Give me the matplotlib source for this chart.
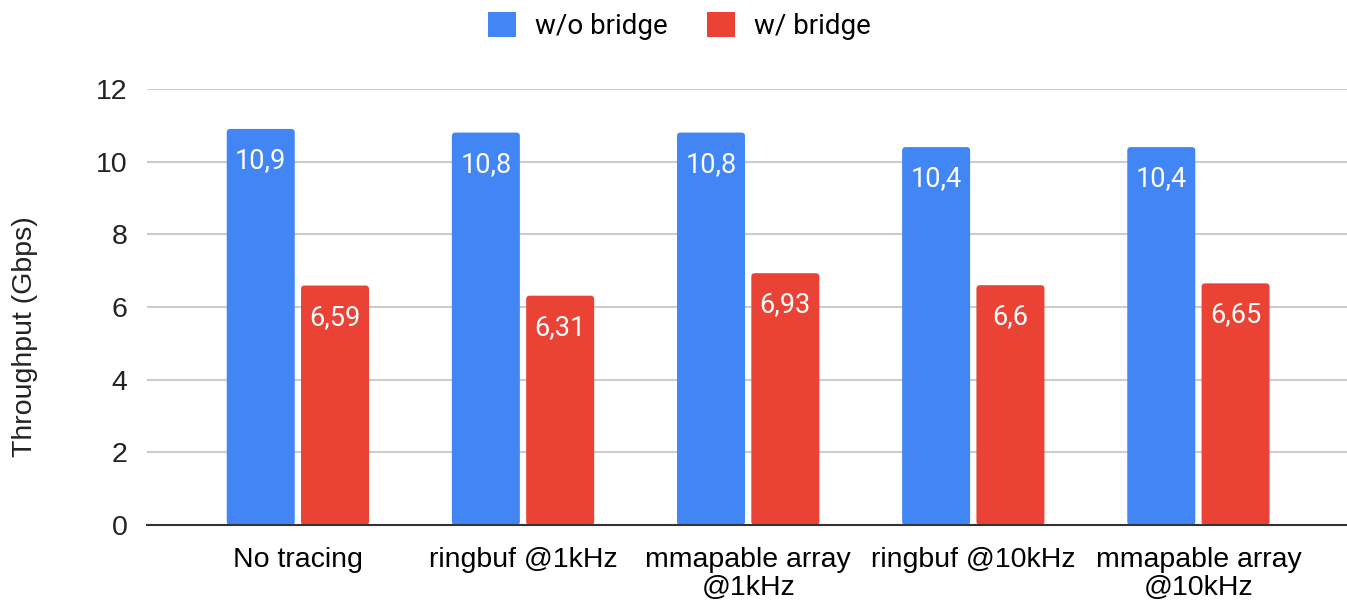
import matplotlib.pyplot as plt
from matplotlib.patches import FancyBboxPatch, Patch
import numpy as np

categories = ['No tracing', 'ringbuf @1kHz', 'mmapable array\n@1kHz',
              'ringbuf @10kHz', 'mmapable array\n@10kHz']
without_bridge = [10.9, 10.8, 10.8, 10.4, 10.4]
with_bridge = [6.59, 6.31, 6.93, 6.6, 6.65]
series_names = ['w/o bridge', 'w/ bridge']

blue = '#4285F4'
red = '#EA4335'

fig = plt.figure(figsize=(13.47, 6.06), dpi=100)
ax = fig.add_axes([0.109, 0.1337, 0.891, 0.7195])

x = np.arange(len(categories))
width = 0.302
off = 0.165

ax.set_ylim(0, 12)
ax.set_xlim(-0.671, 4.66)

b1 = ax.bar(x - off, without_bridge, width, color=blue, zorder=3)
b2 = ax.bar(x + off, with_bridge, width, color=red, zorder=3)

# swap plain rectangles for slightly rounded ones
fig.canvas.draw()
bb = ax.get_window_extent()
px_x = bb.width / (ax.get_xlim()[1] - ax.get_xlim()[0])
px_y = bb.height / (ax.get_ylim()[1] - ax.get_ylim()[0])
r = 3.5 / px_x
for bars in (b1, b2):
    for rect in bars:
        rect.set_visible(False)
        ax.add_patch(FancyBboxPatch(
            (rect.get_x(), rect.get_y()), rect.get_width(), rect.get_height(),
            boxstyle='round,pad=0,rounding_size=%f' % r,
            mutation_aspect=px_x / px_y,
            facecolor=rect.get_facecolor(), edgecolor='none', zorder=3))

# value labels inside the top of each bar, comma as decimal separator
for bars, vals in ((b1, without_bridge), (b2, with_bridge)):
    for rect, v in zip(bars, vals):
        txt = ('%g' % v).replace('.', ',')
        ax.annotate(txt, (rect.get_x() + rect.get_width() / 2, v),
                    xytext=(0, -13), textcoords='offset points',
                    ha='center', va='top', color='white',
                    fontsize=19.5, family='Roboto', zorder=4)

ax.set_yticks(range(0, 13, 2))
ax.set_xticks(x)
ax.set_xticklabels(categories, fontsize=20.5, family='Liberation Sans',
                   linespacing=1.1)
ax.tick_params(axis='x', length=0, pad=16)
ax.tick_params(axis='y', length=0, pad=14, labelsize=20.5)
for lbl in ax.get_yticklabels():
    lbl.set_family('Liberation Sans')
    lbl.set_color('#222222')

ax.grid(axis='y', color='#cccccc', linewidth=1.5, zorder=0)
for s in ('top', 'right', 'left'):
    ax.spines[s].set_visible(False)
ax.spines['bottom'].set_color('#333333')
ax.spines['bottom'].set_linewidth(1.5)
ax.spines['bottom'].set_zorder(5)

ax.set_ylabel('Throughput (Gbps)', fontsize=20.5, family='Liberation Sans',
              color='#222222')
ax.yaxis.set_label_coords(-0.091, 0.433)

handles = [Patch(facecolor=blue, edgecolor='none', label=series_names[0]),
           Patch(facecolor=red, edgecolor='none', label=series_names[1])]
fig.legend(handles=handles, loc='center', bbox_to_anchor=(0.5045, 0.957), ncol=2,
           frameon=False, prop={'family': 'Roboto', 'size': 20},
           handlelength=1.0, handleheight=1.0, handletextpad=0.7,
           columnspacing=1.4)

fig.savefig('out.png', dpi=100)
